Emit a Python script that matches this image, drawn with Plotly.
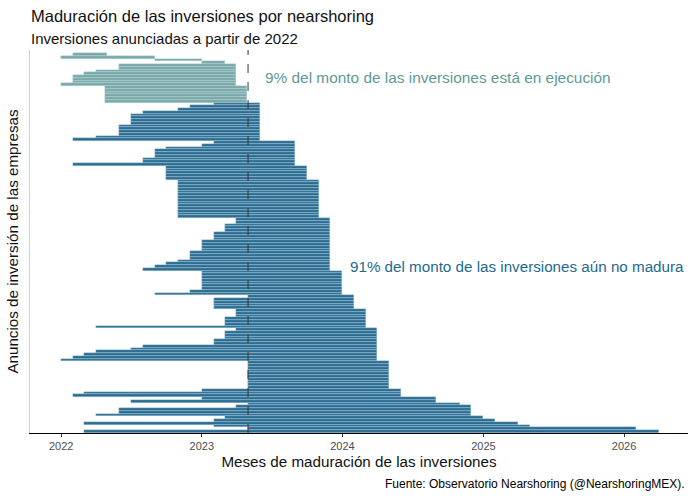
import plotly.graph_objects as go
import pandas as pd

# ---------------- data ----------------
cutoff_date = "2023-05-01"

# one entry per announced investment, listed top -> bottom
bar_start = [
    # finished (teal)
    "2022-02-01", "2022-01-01", "2022-09-01", "2023-01-01",
    "2022-06-01", "2022-06-01", "2022-04-01", "2022-03-01",
    "2022-02-01", "2022-02-01", "2022-02-01", "2022-01-01",
    "2022-04-25", "2022-04-25", "2022-04-25", "2022-04-25", "2022-04-25", "2022-04-25",
    # end Jun 2023
    "2023-02-01", "2022-12-01", "2022-11-01", "2022-08-01",
    "2022-07-01", "2022-07-01", "2022-07-01", "2022-07-01",
    "2022-06-01", "2022-06-01", "2022-06-01", "2022-06-01",
    "2022-04-01", "2022-02-01",
    # end Sep 2023
    "2023-02-01", "2023-01-01", "2022-10-01", "2022-09-01", "2022-09-01",
    "2022-09-01", "2022-08-01", "2022-08-01", "2022-02-01",
    # end Oct 2023
    "2022-10-01", "2022-10-01", "2022-10-01", "2022-10-01", "2022-10-01",
    # end Nov 2023
    "2022-11-01", "2022-11-01", "2022-11-01", "2022-11-01", "2022-11-01",
    "2022-11-01", "2022-11-01", "2022-11-01", "2022-11-01", "2022-11-01",
    "2022-11-01", "2022-11-01", "2022-11-01", "2022-11-01",
    # end Dec 2023
    "2023-04-01", "2023-04-01", "2023-03-01", "2023-03-01", "2023-03-01",
    "2023-02-01", "2023-02-01", "2023-02-01", "2023-01-01", "2023-01-01",
    "2023-01-01", "2023-01-01", "2022-12-01", "2022-12-01", "2022-12-01",
    "2022-11-01", "2022-10-01", "2022-09-01", "2022-08-01",
    # end Jan 2024
    "2023-01-01", "2023-01-01", "2023-01-01", "2023-01-01", "2023-01-01",
    "2023-01-01", "2023-01-01", "2022-12-01", "2022-09-01",
    # end Feb 2024
    "2023-05-01", "2023-02-01", "2023-02-01", "2023-02-01", "2023-02-01",
    # end Mar 2024
    "2023-04-01", "2023-04-01", "2023-04-01", "2023-03-01", "2023-03-01",
    "2023-03-01", "2022-04-01",
    # end Apr 2024
    "2023-04-01", "2023-03-01", "2023-03-01", "2023-03-01", "2023-02-01",
    "2023-02-01", "2022-08-01", "2022-07-01", "2022-04-01", "2022-03-01",
    "2022-02-01", "2022-01-01",
    # end May 2024
    "2023-05-01", "2023-05-01", "2023-05-01", "2023-05-01", "2023-05-01",
    "2023-05-01", "2023-05-01", "2023-05-01", "2023-05-01", "2023-05-01",
    # end Jun 2024
    "2023-01-01", "2022-03-01", "2022-02-01",
    # end Sep 2024
    "2023-01-01", "2022-07-01",
    # end Nov 2024
    "2023-05-01",
    # end Dec 2024
    "2023-04-01", "2022-06-01", "2022-06-01", "2022-04-01",
    # end Jan 2025 .. Apr 2026
    "2023-03-01", "2023-02-01", "2022-03-01", "2023-02-01", "2023-05-01", "2022-03-01",
]

bar_end = [
    "2022-05-01", "2022-09-01", "2023-01-01", "2023-03-01",
    "2023-04-01", "2023-04-01", "2023-04-01", "2023-04-01",
    "2023-04-01", "2023-04-01", "2023-04-01", "2023-04-01",
    "2023-04-28", "2023-04-28", "2023-04-28", "2023-04-28", "2023-04-28", "2023-04-28",
    "2023-06-01", "2023-06-01", "2023-06-01", "2023-06-01",
    "2023-06-01", "2023-06-01", "2023-06-01", "2023-06-01",
    "2023-06-01", "2023-06-01", "2023-06-01", "2023-06-01",
    "2023-06-01", "2023-06-01",
    "2023-09-01", "2023-09-01", "2023-09-01", "2023-09-01", "2023-09-01",
    "2023-09-01", "2023-09-01", "2023-09-01", "2023-09-01",
    "2023-10-01", "2023-10-01", "2023-10-01", "2023-10-01", "2023-10-01",
    "2023-11-01", "2023-11-01", "2023-11-01", "2023-11-01", "2023-11-01",
    "2023-11-01", "2023-11-01", "2023-11-01", "2023-11-01", "2023-11-01",
    "2023-11-01", "2023-11-01", "2023-11-01", "2023-11-01",
    "2023-12-01", "2023-12-01", "2023-12-01", "2023-12-01", "2023-12-01",
    "2023-12-01", "2023-12-01", "2023-12-01", "2023-12-01", "2023-12-01",
    "2023-12-01", "2023-12-01", "2023-12-01", "2023-12-01", "2023-12-01",
    "2023-12-01", "2023-12-01", "2023-12-01", "2023-12-01",
    "2024-01-01", "2024-01-01", "2024-01-01", "2024-01-01", "2024-01-01",
    "2024-01-01", "2024-01-01", "2024-01-01", "2024-01-01",
    "2024-02-01", "2024-02-01", "2024-02-01", "2024-02-01", "2024-02-01",
    "2024-03-01", "2024-03-01", "2024-03-01", "2024-03-01", "2024-03-01",
    "2024-03-01", "2024-03-01",
    "2024-04-01", "2024-04-01", "2024-04-01", "2024-04-01", "2024-04-01",
    "2024-04-01", "2024-04-01", "2024-04-01", "2024-04-01", "2024-04-01",
    "2024-04-01", "2024-04-01",
    "2024-05-01", "2024-05-01", "2024-05-01", "2024-05-01", "2024-05-01",
    "2024-05-01", "2024-05-01", "2024-05-01", "2024-05-01", "2024-05-01",
    "2024-06-01", "2024-06-01", "2024-06-01",
    "2024-09-01", "2024-09-01",
    "2024-11-01",
    "2024-12-01", "2024-12-01", "2024-12-01", "2024-12-01",
    "2025-01-01", "2025-02-01", "2025-04-01", "2025-05-01", "2026-02-01", "2026-04-01",
]

tick_values = ["2022-01-01", "2023-01-01", "2024-01-01", "2025-01-01", "2026-01-01"]
tick_labels = ["2022", "2023", "2024", "2025", "2026"]

title_text = "Maduración de las inversiones por nearshoring"
subtitle_text = "Inversiones anunciadas a partir de 2022"
caption_text = "Fuente: Observatorio Nearshoring (@NearshoringMEX)."
note_done = "9% del monto de las inversiones está en ejecución"
note_pending = "91% del monto de las inversiones aún no madura"

# ---------------- figure ----------------
FONT = "Liberation Sans, Arial, Helvetica, sans-serif"
TEAL = "#7aa9a7"
BLUE = "#2c6d92"

W, H = 696, 497
ML, MR, MT, MB = 30, 8, 50, 64
PH = H - MT - MB


def py(px):
    """pixel row (from top of figure) -> paper y"""
    return (H - MB - px) / PH


def px_x(px):
    return (px - ML) / (W - ML - MR)


start_ts = pd.to_datetime(bar_start)
end_ts = pd.to_datetime(bar_end)
durations = ((end_ts - start_ts) / pd.Timedelta(milliseconds=1)).tolist()
rows = list(range(len(bar_start)))
cut = pd.Timestamp(cutoff_date)
colors = [TEAL if e <= cut else BLUE for e in end_ts]

fig = go.Figure()
fig.add_trace(go.Bar(
    y=rows, x=durations, base=bar_start, orientation="h",
    width=1.0,
    marker=dict(color=colors, line=dict(color="rgba(190,218,230,0.75)", width=0.45)),
    hoverinfo="skip", showlegend=False,
))

fig.add_shape(type="line", xref="x", yref="y domain",
              x0=cutoff_date, x1=cutoff_date, y0=0, y1=1,
              line=dict(color="#333333", width=1, dash="dash"))

fig.add_annotation(xref="paper", yref="paper", x=px_x(263), y=py(77),
                   xanchor="left", yanchor="middle", showarrow=False,
                   text=note_done,
                   font=dict(family=FONT, size=15.4, color="#5e9a98"))
fig.add_annotation(xref="paper", yref="paper", x=px_x(348), y=py(266),
                   xanchor="left", yanchor="middle", showarrow=False,
                   text=note_pending,
                   font=dict(family=FONT, size=15.2, color="#1d6a8e"))

# title / subtitle / caption
fig.add_annotation(xref="paper", yref="paper", x=px_x(29), y=py(16),
                   xanchor="left", yanchor="middle", showarrow=False,
                   text=title_text,
                   font=dict(family=FONT, size=16.5, color="#111111"))
fig.add_annotation(xref="paper", yref="paper", x=px_x(29), y=py(39),
                   xanchor="left", yanchor="middle", showarrow=False,
                   text=subtitle_text,
                   font=dict(family=FONT, size=15, color="#111111"))
fig.add_annotation(xref="paper", yref="paper", x=px_x(687), y=py(484),
                   xanchor="right", yanchor="middle", showarrow=False,
                   text=caption_text,
                   font=dict(family=FONT, size=12, color="#000000"))

fig.update_layout(
    width=W, height=H,
    margin=dict(l=ML, r=MR, t=MT, b=MB, autoexpand=False),
    paper_bgcolor="white", plot_bgcolor="white",
    bargap=0,
    font=dict(family=FONT, color="#222222"),
    xaxis=dict(
        type="date",
        range=["2021-10-12", "2026-06-16"],
        tickvals=tick_values, ticktext=tick_labels,
        ticks="outside", ticklen=3, tickcolor="#333333",
        tickfont=dict(family=FONT, size=11, color="#4d4d4d"),
        showgrid=False, zeroline=False,
        showline=True, linecolor="#000000", linewidth=1,
        title=dict(text="Meses de maduración de las inversiones",
                   font=dict(family=FONT, size=15.2, color="#111111"), standoff=5),
    ),
    yaxis=dict(
        range=[len(bar_start) - 0.5, -1.6],
        showticklabels=False, ticks="", showgrid=False, zeroline=False,
        showline=True, linecolor="#cfcfcf", linewidth=1,
        title=dict(text="Anuncios de inversión de las empresas",
                   font=dict(family=FONT, size=15.2, color="#111111"), standoff=6),
    ),
)

fig.write_html("out.html",
               config={"displayModeBar": False},
               post_script="document.body.style.margin='0px';document.body.style.overflow='hidden';")
